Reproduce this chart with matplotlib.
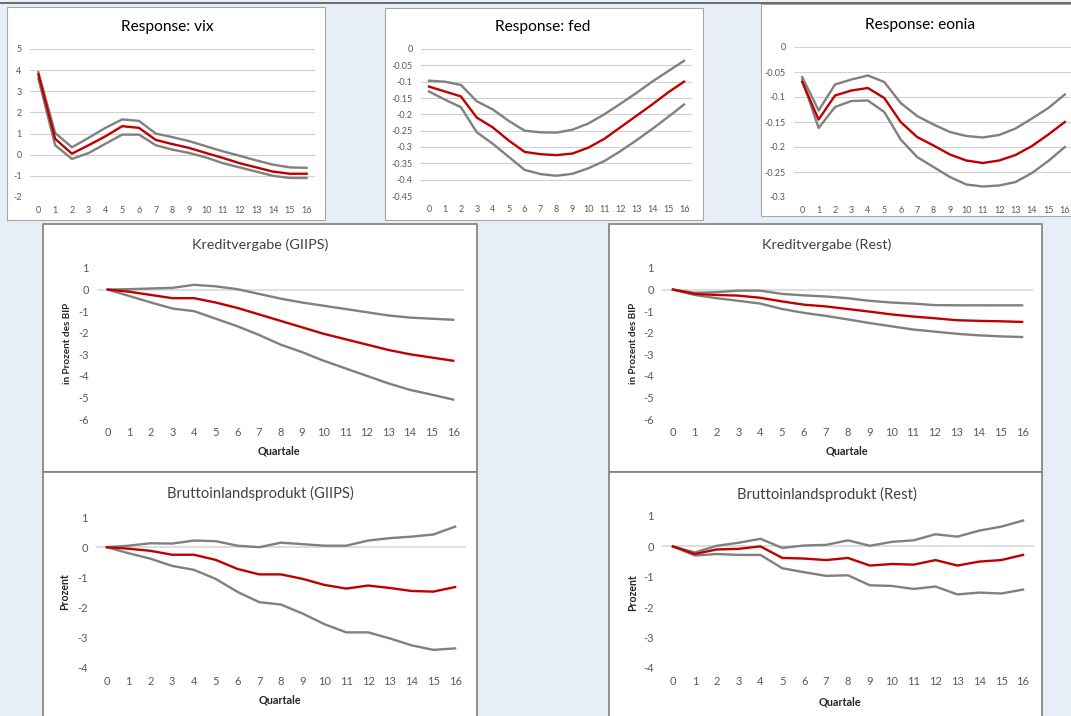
import numpy as np
import matplotlib
matplotlib.use("Agg")
import matplotlib.pyplot as plt
from matplotlib.patches import Rectangle
from matplotlib.lines import Line2D

plt.rcParams['font.family'] = ['Lato', 'DejaVu Sans']

W, H = 1071, 716
BG = '#E7EEF7'
RED = '#C00000'
GREY = '#808080'
TICKCOL = '#595959'

quarters = list(range(17))

### top row: vix, fed, eonia (red = response, grey = bands)
vix_mid = [3.8, 0.75, 0.05, 0.45, 0.87, 1.35, 1.27, 0.7, 0.5, 0.32, 0.08, -0.15, -0.4, -0.6, -0.8, -0.9, -0.9]
vix_up  = [3.9, 1.03, 0.35, 0.8, 1.27, 1.67, 1.6, 1.0, 0.83, 0.64, 0.4, 0.16, -0.05, -0.27, -0.47, -0.6, -0.62]
vix_lo  = [3.6, 0.45, -0.2, 0.08, 0.52, 0.95, 0.95, 0.45, 0.24, 0.08, -0.13, -0.4, -0.6, -0.8, -1.0, -1.1, -1.1]

fed_mid = [-0.115, -0.13, -0.145, -0.21, -0.24, -0.28, -0.315, -0.322, -0.325, -0.32, -0.302, -0.275, -0.24, -0.205, -0.17, -0.133, -0.1]
fed_up  = [-0.097, -0.1, -0.11, -0.16, -0.185, -0.22, -0.25, -0.255, -0.256, -0.247, -0.228, -0.2, -0.168, -0.135, -0.1, -0.068, -0.036]
fed_lo  = [-0.13, -0.155, -0.178, -0.255, -0.29, -0.33, -0.37, -0.383, -0.388, -0.382, -0.365, -0.343, -0.313, -0.28, -0.245, -0.208, -0.17]

eonia_mid = [-0.07, -0.145, -0.097, -0.087, -0.082, -0.102, -0.15, -0.18, -0.197, -0.215, -0.227, -0.232, -0.227, -0.216, -0.198, -0.175, -0.15]
eonia_up  = [-0.06, -0.127, -0.075, -0.065, -0.057, -0.07, -0.112, -0.138, -0.155, -0.17, -0.178, -0.181, -0.176, -0.163, -0.143, -0.122, -0.095]
eonia_lo  = [-0.065, -0.162, -0.12, -0.108, -0.107, -0.13, -0.185, -0.22, -0.24, -0.26, -0.275, -0.279, -0.277, -0.27, -0.252, -0.228, -0.2]

### Kreditvergabe
kg_mid = [0, -0.1, -0.25, -0.4, -0.4, -0.6, -0.85, -1.15, -1.45, -1.75, -2.05, -2.3, -2.55, -2.8, -3.0, -3.15, -3.3]
kg_up  = [0, 0.02, 0.05, 0.08, 0.22, 0.15, 0.02, -0.2, -0.42, -0.6, -0.75, -0.9, -1.05, -1.2, -1.3, -1.35, -1.4]
kg_lo  = [0, -0.3, -0.6, -0.88, -1.0, -1.35, -1.7, -2.1, -2.55, -2.9, -3.3, -3.65, -4.0, -4.35, -4.65, -4.87, -5.1]

kr_mid = [0, -0.2, -0.25, -0.28, -0.38, -0.55, -0.7, -0.78, -0.9, -1.02, -1.15, -1.25, -1.33, -1.42, -1.45, -1.47, -1.5]
kr_up  = [0, -0.15, -0.12, -0.05, -0.05, -0.2, -0.27, -0.32, -0.4, -0.52, -0.6, -0.65, -0.72, -0.73, -0.73, -0.73, -0.73]
kr_lo  = [0, -0.25, -0.4, -0.52, -0.65, -0.9, -1.08, -1.22, -1.38, -1.55, -1.7, -1.85, -1.95, -2.05, -2.12, -2.17, -2.2]

### Bruttoinlandsprodukt
bg_mid = [0, -0.05, -0.12, -0.25, -0.25, -0.42, -0.72, -0.9, -0.9, -1.05, -1.25, -1.37, -1.27, -1.35, -1.45, -1.47, -1.32]
bg_up  = [0, 0.05, 0.13, 0.12, 0.22, 0.2, 0.05, 0.0, 0.15, 0.1, 0.05, 0.05, 0.22, 0.3, 0.35, 0.42, 0.68]
bg_lo  = [0, -0.2, -0.38, -0.62, -0.75, -1.05, -1.48, -1.82, -1.9, -2.2, -2.55, -2.82, -2.82, -3.02, -3.25, -3.4, -3.35]

br_mid = [0, -0.25, -0.1, -0.08, 0.0, -0.38, -0.4, -0.45, -0.38, -0.63, -0.58, -0.6, -0.45, -0.63, -0.5, -0.45, -0.28]
br_up  = [0, -0.2, 0.02, 0.12, 0.25, -0.05, 0.03, 0.05, 0.2, 0.02, 0.15, 0.2, 0.4, 0.32, 0.52, 0.65, 0.85]
br_lo  = [0, -0.3, -0.25, -0.28, -0.28, -0.72, -0.85, -0.97, -0.95, -1.28, -1.3, -1.4, -1.32, -1.58, -1.52, -1.55, -1.42]


def fx(x):
    return x / W

def fy(y):
    return 1 - y / H

def box(fig, x0, y0, x1, y1, ec, lw):
    fig.patches.append(Rectangle((fx(x0), fy(y1)), fx(x1) - fx(x0), fy(y0) - fy(y1),
                                 transform=fig.transFigure, facecolor='white',
                                 edgecolor=ec, lw=lw, zorder=-5))

def panel(fig, rect, mid, up, lo, ylim, yticks, ylabels, fs, xpad, grid=True):
    x0, y0, x1, y1 = rect
    ax = fig.add_axes([fx(x0), fy(y1), fx(x1) - fx(x0), fy(y0) - fy(y1)], zorder=2)
    ax.patch.set_visible(False)
    for s in ax.spines.values():
        s.set_visible(False)
    if grid:
        for t in yticks:
            ax.axhline(t, color='#D0D0D0', lw=0.8, zorder=1)
    else:
        ax.axhline(0, color='#D9D9D9', lw=1.2, zorder=1)
    ax.plot(quarters, up, color=GREY, lw=1.7, zorder=2)
    ax.plot(quarters, lo, color=GREY, lw=1.7, zorder=2)
    ax.plot(quarters, mid, color=RED, lw=1.7, zorder=3)
    ax.set_xlim(-0.5, 16.5)
    ax.set_ylim(*ylim)
    ax.set_xticks(quarters)
    ax.set_xticklabels([str(q) for q in quarters])
    ax.set_yticks(yticks)
    ax.set_yticklabels(ylabels)
    ax.tick_params(length=0, labelsize=fs, labelcolor=TICKCOL)
    ax.tick_params(axis='x', pad=xpad)
    ax.tick_params(axis='y', pad=6)
    return ax


fig = plt.figure(figsize=(W / 100, H / 100), dpi=100)
fig.patch.set_facecolor(BG)

### boxes, top row first
box(fig, 7, 7, 325, 220, '#A6A6A6', 0.8)
box(fig, 385, 8, 703, 220, '#A6A6A6', 0.8)
box(fig, 761, 4, 1085, 216, '#A6A6A6', 0.8)
box(fig, 43, 224, 477, 472, '#7F7F7F', 1.2)
box(fig, 609, 224, 1042, 472, '#7F7F7F', 1.2)
box(fig, 43, 472, 477, 730, '#7F7F7F', 1.2)
box(fig, 609, 472, 1042, 730, '#7F7F7F', 1.2)
fig.lines.append(Line2D([0, 1], [fy(3), fy(3)], transform=fig.transFigure, color='#555555', lw=1.2, zorder=-4))

### top row
vt = list(range(-2, 6))
panel(fig, (30, 49, 315, 197), vix_mid, vix_up, vix_lo, (-2, 5), vt, [str(t) for t in vt], 6.5, 6.5)
ft = [-0.45, -0.4, -0.35, -0.3, -0.25, -0.2, -0.15, -0.1, -0.05, 0]
panel(fig, (421, 49, 692, 196), fed_mid, fed_up, fed_lo, (-0.45, 0), ft, ['%g' % t for t in ft], 6.5, 6.5)
et = [-0.3, -0.25, -0.2, -0.15, -0.1, -0.05, 0]
panel(fig, (794, 47, 1073, 197), eonia_mid, eonia_up, eonia_lo, (-0.3, 0), et, ['%g' % t for t in et], 6.5, 6.5)

fig.text(fx(167), fy(27), 'Response: vix', ha='center', va='center', fontsize=11.2)
fig.text(fx(543), fy(27), 'Response: fed', ha='center', va='center', fontsize=11.2)
fig.text(fx(920), fy(25), 'Response: eonia', ha='center', va='center', fontsize=11.2)

### middle and bottom rows
kt = list(range(-6, 2))
panel(fig, (97, 268, 464, 419), kg_mid, kg_up, kg_lo, (-6, 1), kt, [str(t) for t in kt], 8, 6, grid=False)
panel(fig, (662, 268, 1033, 419), kr_mid, kr_up, kr_lo, (-6, 1), kt, [str(t) for t in kt], 8, 6, grid=False)
bt = list(range(-4, 2))
panel(fig, (96, 517, 466, 668), bg_mid, bg_up, bg_lo, (-4, 1), bt, [str(t) for t in bt], 8, 6, grid=False)
panel(fig, (662, 516, 1034, 668), br_mid, br_up, br_lo, (-4, 1), bt, [str(t) for t in bt], 8, 6, grid=False)

fig.text(fx(260), fy(245), 'Kreditvergabe (GIIPS)', ha='center', va='center', fontsize=10.4, color='#404040')
fig.text(fx(827), fy(245), 'Kreditvergabe (Rest)', ha='center', va='center', fontsize=10.4, color='#404040')
fig.text(fx(260), fy(493), 'Bruttoinlandsprodukt (GIIPS)', ha='center', va='center', fontsize=10.6, color='#404040')
fig.text(fx(827), fy(494), 'Bruttoinlandsprodukt (Rest)', ha='center', va='center', fontsize=10.6, color='#404040')

for (x, y) in [(279, 451), (847, 451), (280, 700), (840, 702)]:
    fig.text(fx(x), fy(y), 'Quartale', ha='center', va='center', fontsize=7.8, fontweight='bold', color='#262626')
for (x, y) in [(68, 343), (633, 343)]:
    fig.text(fx(x), fy(y), 'in Prozent des BIP', ha='center', va='center', fontsize=7.2, fontweight='bold', rotation=90, color='#262626')
for (x, y) in [(65, 592), (633, 593)]:
    fig.text(fx(x), fy(y), 'Prozent', ha='center', va='center', fontsize=7.6, fontweight='bold', rotation=90, color='#262626')

fig.savefig('out.png', dpi=100, facecolor=BG)
